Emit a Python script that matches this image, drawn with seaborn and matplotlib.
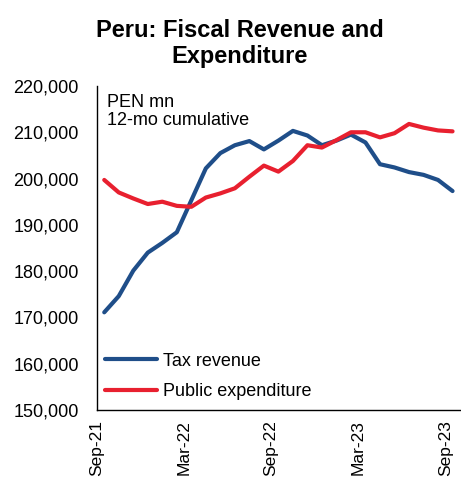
import numpy as np
import pandas as pd
import matplotlib
matplotlib.use("Agg")
import matplotlib.pyplot as plt
import seaborn as sns

# Monthly observations, Sep-21 .. Sep-23 (PEN mn, 12-month cumulative)
months = pd.date_range("2021-09-01", "2023-09-01", freq="MS").strftime("%b-%y").tolist()
tax_revenue = [171100, 174600, 180100, 184000, 186100, 188400, 195300, 202200,
               205500, 207200, 208100, 206300, 208200, 210300, 209300, 207200,
               208200, 209500, 207800, 203100, 202400, 201400, 200800, 199700,
               197300]
public_expenditure = [199700, 197000, 195700, 194500, 195000, 194100, 193900, 195900,
                      196800, 197900, 200400, 202800, 201500, 203800, 207200, 206700,
                      208300, 210000, 210000, 208900, 209800, 211800, 211000, 210400,
                      210200]
tick_labels = ["Sep-21", "Mar-22", "Sep-22", "Mar-23", "Sep-23"]
series_names = ["Tax revenue", "Public expenditure"]
colors = ["#1F4E89", "#E8202F"]

sns.set_theme(style="white")
plt.rcParams["font.family"] = ["Liberation Sans", "DejaVu Sans"]
plt.rcParams["text.color"] = "black"

pos = np.arange(len(months)) + 0.5  # categories centred between tick marks
df = pd.DataFrame({
    "pos": np.concatenate([pos, pos]),
    "value": tax_revenue + public_expenditure,
    "series": [series_names[0]] * len(months) + [series_names[1]] * len(months),
})

fig = plt.figure(figsize=(4.61, 4.78), dpi=100)
ax = fig.add_axes([0.2104, 0.1423, 0.787, 0.6778])

sns.lineplot(data=df, x="pos", y="value", hue="series", hue_order=series_names,
             palette=colors, linewidth=3.0, ax=ax, legend=True)

ax.set_xlim(0, len(months))
ax.set_ylim(150000, 220000)
ax.set_yticks(np.arange(150000, 220001, 10000))
ax.yaxis.set_major_formatter(matplotlib.ticker.FuncFormatter(lambda v, p: f"{int(v):,}"))
ax.set_xticks([0, 6, 12, 18, 24])
ax.set_xticklabels(tick_labels, rotation=90)
ax.set_xlabel("")
ax.set_ylabel("")

for s in ["top", "right"]:
    ax.spines[s].set_visible(False)
for s in ["left", "bottom"]:
    ax.spines[s].set_color("black")
    ax.spines[s].set_linewidth(1.0)

ax.tick_params(axis="both", direction="out", length=4, width=1, color="black",
               labelsize=13, labelcolor="black")
ax.tick_params(axis="y", pad=9)
ax.tick_params(axis="x", pad=3, labelsize=12.5)

ax.text(0.027, 0.975, "PEN mn\n12-mo cumulative", transform=ax.transAxes,
        ha="left", va="top", fontsize=13, linespacing=1.1)

leg = ax.legend(loc="lower left", bbox_to_anchor=(0.022, 0.03), frameon=False,
                fontsize=13, handlelength=2.9, handletextpad=0.3, labelspacing=0.75,
                borderpad=0, borderaxespad=0)
for line in leg.get_lines():
    line.set_linewidth(3.0)

title_x = 240 / 461
fig.text(title_x, 1 - 36.7 / 478, "Peru: Fiscal Revenue and", ha="center", va="baseline",
         fontsize=17, fontweight="bold")
fig.text(title_x, 1 - 63 / 478, "Expenditure", ha="center", va="baseline",
         fontsize=17, fontweight="bold")

fig.savefig("out.png", dpi=100)
